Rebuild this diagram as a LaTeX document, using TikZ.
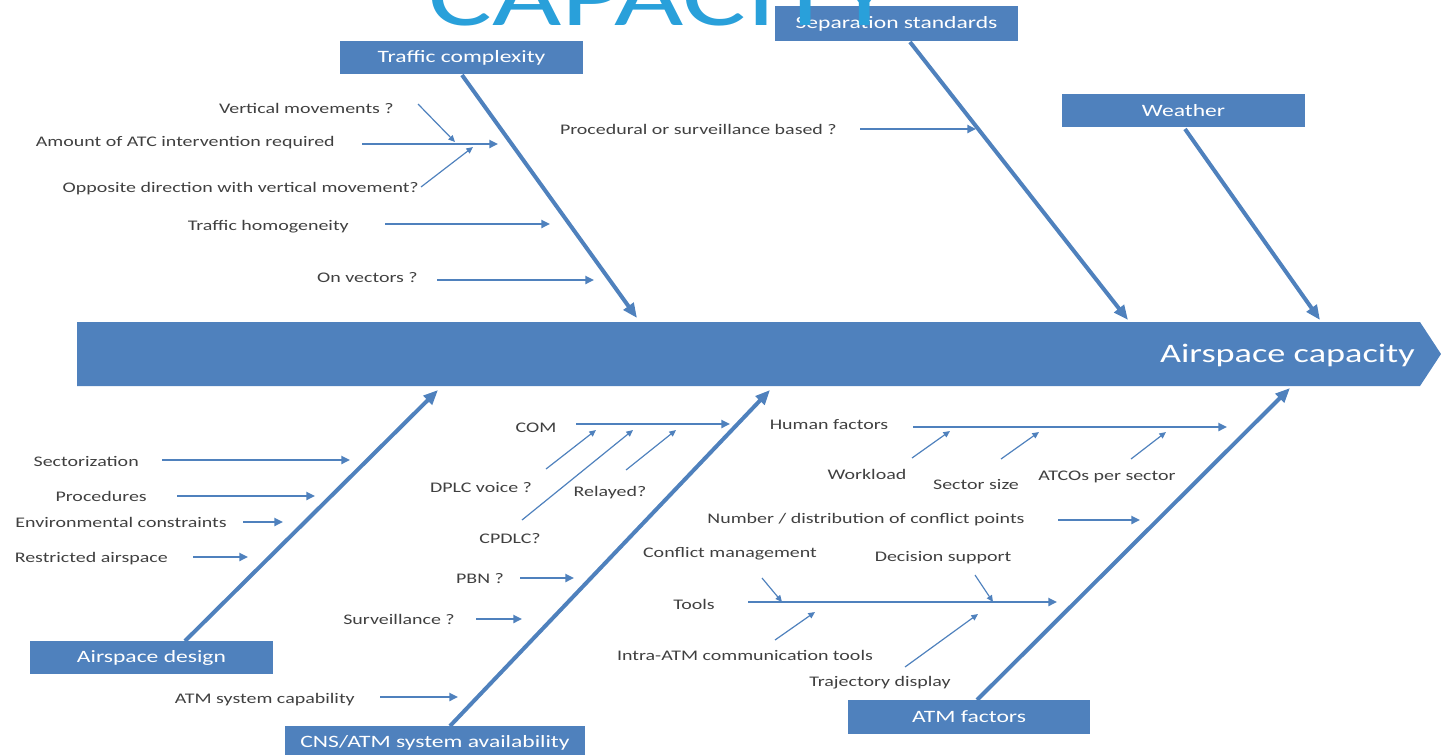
\documentclass[tikz,border=0pt]{standalone}
\usepackage{fontspec}
\setmainfont{Carlito}[FakeStretch=1.36]
\usetikzlibrary{arrows.meta}
\definecolor{bone}{RGB}{79,129,189}
\definecolor{titleblue}{RGB}{41,160,218}
\definecolor{txt}{RGB}{64,64,64}
\begin{document}
\begin{tikzpicture}[x=0.75pt,y=-0.75pt,
  cat/.style={fill=bone, draw=none, text=white, inner sep=0pt,
    font=\fontsize{13}{15}\selectfont, minimum width=182pt, minimum height=25pt},
  lbl/.style={text=txt, inner sep=0pt, font=\fontsize{11}{13}\selectfont},
  bonearrow/.style={draw=bone, line width=3pt, -{Triangle[length=11pt,width=9pt]}},
  sub/.style={draw=bone, line width=1.9pt, -{Triangle[length=6.5pt,width=6pt]}},
  thin/.style={draw=bone, line width=0.9pt, -{Triangle[length=5pt,width=4.5pt]}}]
\useasboundingbox (0,0) rectangle (1441,754);
\clip (0,0) rectangle (1441,754);
% spine
\fill[bone] (77,322) -- (1420,322) -- (1441,354) -- (1420,386) -- (77,386) -- cycle;
\node[anchor=east, text=white, inner sep=0pt, font=\fontsize{20}{24}\selectfont]
  (effect) at (1415,355) {Airspace capacity};
% category boxes
\node[cat] (tc) at (461.5,57.5) {Traffic complexity};
\node[cat, minimum height=26pt] (ss) at (896.5,23.5) {Separation standards};
\node[cat] (we) at (1183.5,110.5) {Weather};
\node[cat] (ad) at (151.5,657.5) {Airspace design};
\node[cat, minimum width=225pt] (cns) at (435,743) {CNS/ATM system availability};
\node[cat] (atm) at (969,717) {ATM factors};
% title (drawn over the boxes)
\node[anchor=base west, text=titleblue, inner sep=0pt,
  font=\fontsize{66}{66}\selectfont] (title) at (428,25) {CAPACITY};
% bone end points
\coordinate (tcS) at (462,75);   \coordinate (tcE) at (637,318);
\coordinate (ssS) at (910,42);   \coordinate (ssE) at (1128,320);
\coordinate (weS) at (1185,129); \coordinate (weE) at (1320,320);
\coordinate (adS) at (185,641);  \coordinate (adE) at (438,390);
\coordinate (cnsS) at (450,726); \coordinate (cnsE) at (770,390);
\coordinate (atmS) at (977,700); \coordinate (atmE) at (1290,388);
\draw[bonearrow] (tcS) -- (tcE);
\draw[bonearrow] (ssS) -- (ssE);
\draw[bonearrow] (weS) -- (weE);
\draw[bonearrow] (adS) -- (adE);
\draw[bonearrow] (cnsS) -- (cnsE);
\draw[bonearrow] (atmS) -- (atmE);
% traffic complexity causes
\node[lbl, anchor=east] (vm) at (394,108) {Vertical movements ?};
\node[lbl, anchor=east] (amt) at (335,143) {Amount of ATC intervention required};
\node[lbl, anchor=east] (opp) at (419,189) {Opposite direction with vertical movement?};
\node[lbl, anchor=east] (hom) at (349,227) {Traffic homogeneity};
\node[lbl, anchor=east] (vec) at (418,278) {On vectors ?};
\coordinate (vmA) at (418,104); \coordinate (vmB) at (455,142);
\coordinate (amtA) at (362,144); \coordinate (amtB) at (498,144);
\coordinate (oppA) at (421,187); \coordinate (oppB) at (473,147);
\coordinate (homA) at (385,224); \coordinate (homB) at (550,224);
\coordinate (vecA) at (437,280); \coordinate (vecB) at (594,280);
\draw[thin] (vmA) -- (vmB);
\draw[sub] (amtA) -- (amtB);
\draw[thin] (oppA) -- (oppB);
\draw[sub] (homA) -- (homB);
\draw[sub] (vecA) -- (vecB);
% separation standards
\node[lbl, anchor=east] (proc) at (837,129) {Procedural or surveillance based ?};
\coordinate (procA) at (860,129); \coordinate (procB) at (976,129);
\draw[sub] (procA) -- (procB);
% airspace design
\node[lbl, anchor=east] (sect) at (139,461) {Sectorization};
\node[lbl, anchor=east] (pro) at (147,496) {Procedures};
\node[lbl, anchor=east] (env) at (227,522) {Environmental constraints};
\node[lbl, anchor=east] (res) at (168,559) {Restricted airspace};
\coordinate (sectA) at (162,460); \coordinate (sectB) at (350,460);
\coordinate (proA) at (177,496); \coordinate (proB) at (315,496);
\coordinate (envA) at (243,522); \coordinate (envB) at (283,522);
\coordinate (resA) at (193,557); \coordinate (resB) at (248,557);
\draw[sub] (sectA) -- (sectB);
\draw[sub] (proA) -- (proB);
\draw[sub] (envA) -- (envB);
\draw[sub] (resA) -- (resB);
% CNS/ATM
\node[lbl, anchor=east] (cap) at (355,700) {ATM system capability};
\node[lbl] (com) at (536,428) {COM};
\node[lbl] (dplc) at (481,487) {DPLC voice ?};
\node[lbl] (cpdlc) at (510,539) {CPDLC?};
\node[lbl] (rel) at (610,493) {Relayed?};
\node[lbl] (pbn) at (480,579) {PBN ?};
\node[lbl, anchor=east] (sur) at (455,619) {Surveillance ?};
\coordinate (capA) at (380,697); \coordinate (capB) at (458,697);
\coordinate (comA) at (576,424); \coordinate (comB) at (730,424);
\coordinate (dplcA) at (546,469); \coordinate (dplcB) at (596,430);
\coordinate (cpdlcA) at (522,520); \coordinate (cpdlcB) at (633,430);
\coordinate (relA) at (626,470); \coordinate (relB) at (676,430);
\coordinate (pbnA) at (520,578); \coordinate (pbnB) at (574,578);
\coordinate (surA) at (476,619); \coordinate (surB) at (522,619);
\draw[sub] (capA) -- (capB);
\draw[sub] (comA) -- (comB);
\draw[thin] (dplcA) -- (dplcB);
\draw[thin] (cpdlcA) -- (cpdlcB);
\draw[thin] (relA) -- (relB);
\draw[sub] (pbnA) -- (pbnB);
\draw[sub] (surA) -- (surB);
% ATM factors
\node[lbl] (hf) at (829,425) {Human factors};
\node[lbl] (wl) at (867,474) {Workload};
\node[lbl] (ssz) at (976,484) {Sector size};
\node[lbl] (atco) at (1107,477) {ATCOs per sector};
\node[lbl] (ncp) at (866,520) {Number / distribution of conflict  points};
\node[lbl] (cm) at (730,554) {Conflict management};
\node[lbl] (ds) at (943,558) {Decision support};
\node[lbl] (tools) at (694,604) {Tools};
\node[lbl] (intra) at (745,655) {Intra-ATM communication tools};
\node[lbl] (traj) at (880,683) {Trajectory display};
\coordinate (hfA) at (913,427); \coordinate (hfB) at (1227,427);
\coordinate (wlA) at (912,458); \coordinate (wlB) at (950,431);
\coordinate (sszA) at (1001,459); \coordinate (sszB) at (1039,432);
\coordinate (atcoA) at (1131,459); \coordinate (atcoB) at (1166,432);
\coordinate (ncpA) at (1058,520); \coordinate (ncpB) at (1140,520);
\coordinate (toolsA) at (748,602); \coordinate (toolsB) at (1057,602);
\coordinate (cmA) at (762,578); \coordinate (cmB) at (782,602);
\coordinate (dsA) at (975,575); \coordinate (dsB) at (993,602);
\coordinate (intraA) at (775,640); \coordinate (intraB) at (815,612);
\coordinate (trajA) at (905,667); \coordinate (trajB) at (978,614);
\draw[sub] (hfA) -- (hfB);
\draw[thin] (wlA) -- (wlB);
\draw[thin] (sszA) -- (sszB);
\draw[thin] (atcoA) -- (atcoB);
\draw[sub] (ncpA) -- (ncpB);
\draw[sub] (toolsA) -- (toolsB);
\draw[thin] (cmA) -- (cmB);
\draw[thin] (dsA) -- (dsB);
\draw[thin] (intraA) -- (intraB);
\draw[thin] (trajA) -- (trajB);
\end{tikzpicture}
\end{document}
